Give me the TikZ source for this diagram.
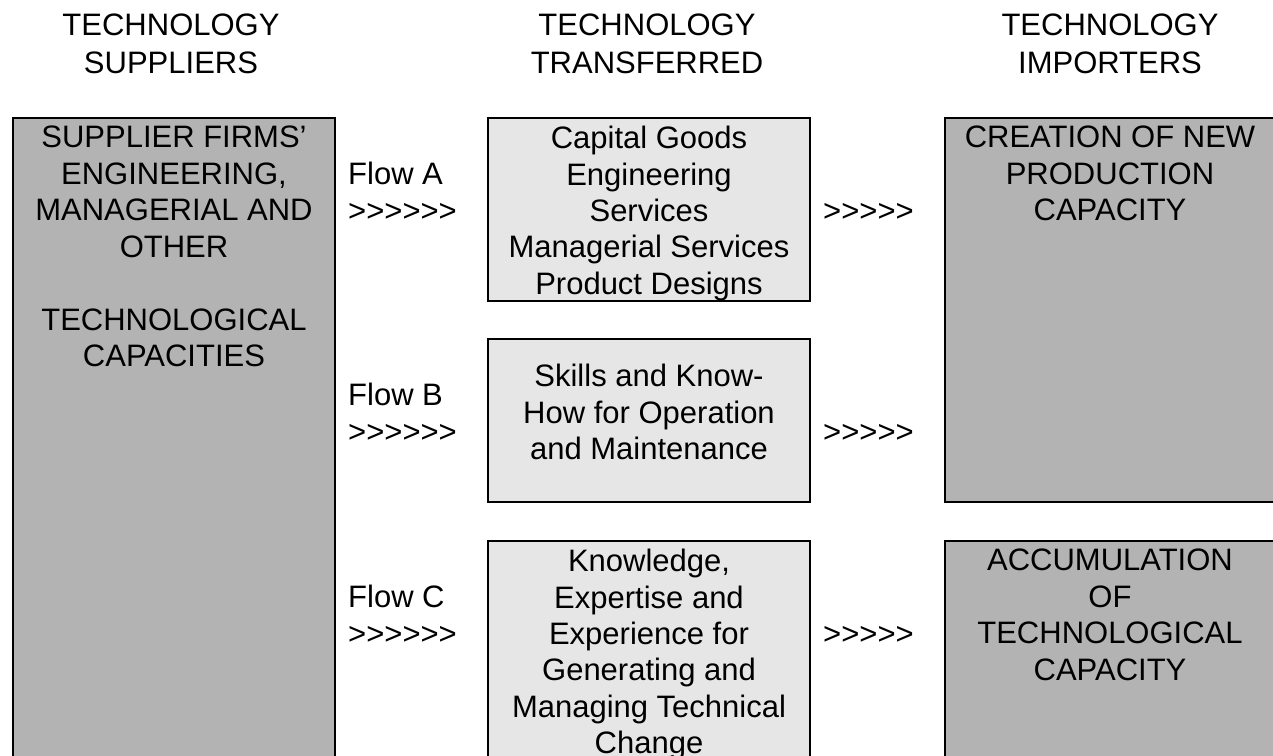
\documentclass[tikz,border=0pt]{standalone}
\usepackage{fontspec}
\setmainfont{Liberation Sans}[Ligatures=TeXOff]
\usetikzlibrary{calc}
\definecolor{boxdark}{RGB}{179,179,179}
\definecolor{boxlight}{RGB}{230,230,230}

\begin{document}
\begin{tikzpicture}[x=1pt,y=-1pt,
  panel/.style={draw=black, line width=2pt, inner sep=0pt, anchor=north west},
  darkpanel/.style={panel, fill=boxdark},
  lightpanel/.style={panel, fill=boxlight},
  boxtext/.style={font=\fontsize{31}{36.4}\selectfont, align=center, inner sep=0pt, anchor=north},
  headtext/.style={font=\fontsize{31}{37.8}\selectfont, align=center, inner sep=0pt, anchor=north},
  flowtext/.style={font=\fontsize{31}{36.4}\selectfont, align=left, inner sep=0pt, anchor=base west}
]
\useasboundingbox (0,0) rectangle (1273,755);
\fill[white] (0,0) rectangle (1273,755);
\clip (0,0) rectangle (1273,755);

% column headings
\node[headtext] (hsup) at (171,14) {TECHNOLOGY\\SUPPLIERS};
\node[headtext] (htra) at (647,14) {TECHNOLOGY\\TRANSFERRED};
\node[headtext] (himp) at (1110,14) {TECHNOLOGY\\IMPORTERS};

% supplier capacities
\node[darkpanel, minimum width=322pt, minimum height=680pt] (sup) at (12,117) {};
\node[boxtext] (suptxt) at ($(sup.north)+(0,9)$)
  {SUPPLIER FIRMS’\\ENGINEERING,\\MANAGERIAL AND\\OTHER\\[37pt]TECHNOLOGICAL\\CAPACITIES};

% transferred technology
\node[lightpanel, minimum width=322pt, minimum height=183pt] (ta) at (487,117) {};
\node[boxtext] (tatxt) at ($(ta.north)+(0,9)$)
  {Capital Goods\\Engineering\\Services\\Managerial Services\\Product Designs};

\node[lightpanel, minimum width=322pt, minimum height=163pt] (tb) at (487,338) {};
\node[boxtext] (tbtxt) at ($(tb.north)+(0,26)$)
  {Skills and Know-\\How for Operation\\and Maintenance};

\node[lightpanel, minimum width=322pt, minimum height=260pt] (tc) at (487,540) {};
\node[boxtext] (tctxt) at ($(tc.north)+(0,9)$)
  {Knowledge,\\Expertise and\\Experience for\\Generating and\\Managing Technical\\Change};

% importer outcomes
\node[darkpanel, minimum width=334pt, minimum height=384pt] (ia) at (944,117) {};
\node[boxtext] (iatxt) at (1110,126)
  {CREATION OF NEW\\PRODUCTION\\CAPACITY};

\node[darkpanel, minimum width=334pt, minimum height=260pt] (ib) at (944,540) {};
\node[boxtext] (ibtxt) at (1110,549)
  {ACCUMULATION\\OF\\TECHNOLOGICAL\\CAPACITY};

% flow labels
\node[flowtext] (fa) at (348,221) {Flow A\\>>>>>>};
\node[flowtext] (fb) at (348,442) {Flow B\\>>>>>>};
\node[flowtext] (fc) at (348,644) {Flow C\\>>>>>>};

\node[flowtext] (ra) at (823,221) {>>>>>};
\node[flowtext] (rb) at (823,442) {>>>>>};
\node[flowtext] (rc) at (823,644) {>>>>>};
\end{tikzpicture}
\end{document}
